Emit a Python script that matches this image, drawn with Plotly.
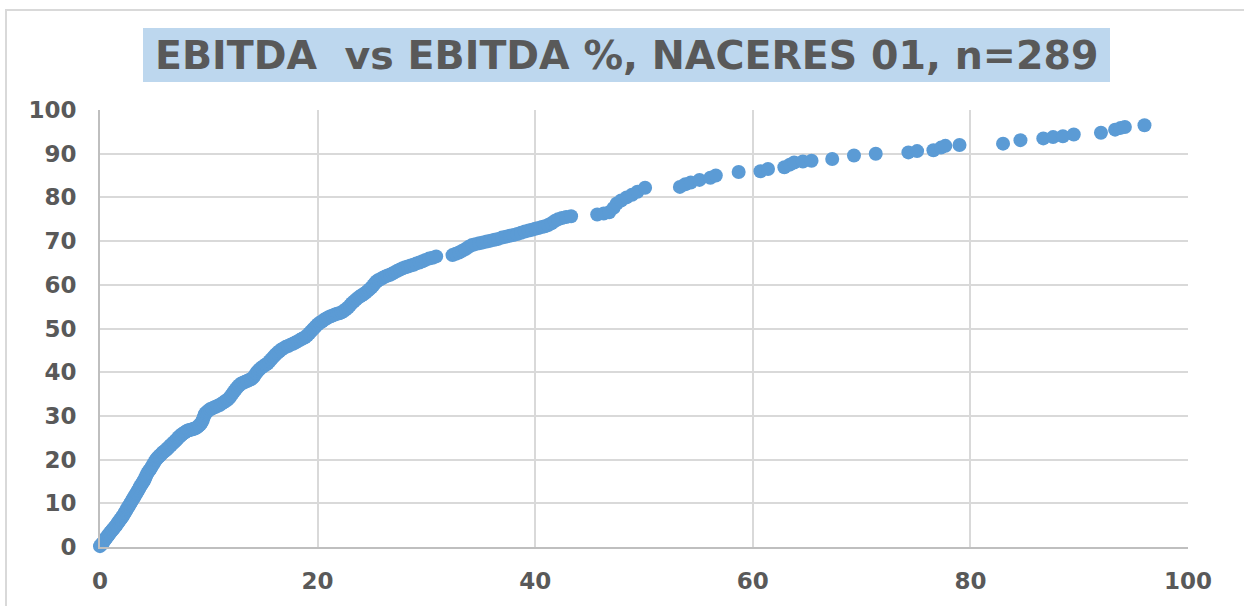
import plotly.graph_objects as go

# EBITDA share (x) against cumulative EBITDA % (y), NACE Rev.2 division 01, 289 firms
seg_a_x = [0.00, 0.10, 0.22, 0.35, 0.48, 0.55,
           0.62, 0.69, 0.76, 0.83, 0.90, 0.98, 1.06, 1.14, 1.22, 1.30,
           1.38, 1.46, 1.54, 1.62, 1.70, 1.78, 1.86, 1.94, 2.02, 2.10,
           2.18, 2.26, 2.34, 2.42, 2.50, 2.58, 2.66, 2.74, 2.82, 2.90,
           2.98, 3.06, 3.14, 3.22, 3.30, 3.38, 3.46, 3.54, 3.62, 3.70,
           3.78, 3.86, 3.94, 4.02, 4.10, 4.18, 4.26, 4.36, 4.46, 4.56,
           4.66, 4.76, 4.88, 5.00, 5.12]
seg_a_y = [0.2, 0.5, 0.8, 1.2, 1.8, 2.0,
           2.2, 2.5, 2.7, 2.9, 3.2, 3.4, 3.7, 3.9, 4.1, 4.4,
           4.6, 4.9, 5.1, 5.5, 5.7, 6.0, 6.3, 6.5, 6.8, 7.1,
           7.4, 7.8, 8.1, 8.4, 8.8, 9.1, 9.4, 9.8, 10.1, 10.4,
           10.8, 11.1, 11.4, 11.8, 12.1, 12.4, 12.8, 13.1, 13.5, 13.9,
           14.2, 14.5, 14.8, 15.1, 15.5, 15.9, 16.4, 16.9, 17.3, 17.6,
           18.0, 18.4, 18.9, 19.4, 19.9]

seg_b_x = [5.22, 5.32, 5.42, 5.52, 5.62, 5.72, 5.82, 5.92, 6.02, 6.12,
           6.22, 6.32, 6.42, 6.52, 6.62, 6.72, 6.82, 6.92, 7.02, 7.12,
           7.22, 7.32, 7.42, 7.54, 7.66, 7.78, 7.90, 8.02, 8.14, 8.28,
           8.42, 8.56, 8.70, 8.84, 8.98, 9.10, 9.22, 9.34, 9.44, 9.52,
           9.60, 9.70, 9.82, 9.96, 10.10]
seg_b_y = [20.2, 20.5, 20.7, 21.0, 21.2, 21.5, 21.7, 21.9, 22.1, 22.3,
           22.6, 22.8, 23.1, 23.3, 23.6, 23.8, 24.0, 24.3, 24.5, 24.8,
           25.1, 25.3, 25.5, 25.8, 26.0, 26.2, 26.4, 26.6, 26.7, 26.8,
           26.9, 27.0, 27.1, 27.3, 27.5, 27.8, 28.1, 28.5, 29.0, 29.6,
           30.2, 30.6, 30.9, 31.2, 31.5]

seg_c_x = [10.28, 10.46, 10.64, 10.82, 11.00, 11.18, 11.36, 11.54, 11.72, 11.88,
           12.04, 12.18, 12.32, 12.48, 12.64, 12.80, 12.98, 13.16, 13.34, 13.52,
           13.70, 13.88, 14.04, 14.20, 14.36, 14.52, 14.68, 14.86, 15.04, 15.22,
           15.40, 15.58, 15.76, 15.94, 16.12, 16.30, 16.48, 16.68, 16.88, 17.08,
           17.30, 17.52, 17.74, 17.96, 18.18, 18.40, 18.62, 18.84, 19.04, 19.24,
           19.42, 19.60, 19.80, 20.00, 20.20]
seg_c_y = [31.7, 31.9, 32.1, 32.3, 32.5, 32.8, 33.1, 33.4, 33.7, 34.1,
           34.6, 35.1, 35.6, 36.1, 36.6, 37.0, 37.4, 37.6, 37.8, 38.0,
           38.2, 38.4, 38.7, 39.2, 39.8, 40.3, 40.7, 41.1, 41.4, 41.7,
           42.0, 42.5, 43.0, 43.5, 44.0, 44.4, 44.8, 45.2, 45.5, 45.8,
           46.0, 46.3, 46.5, 46.8, 47.1, 47.4, 47.7, 48.0, 48.4, 48.9,
           49.4, 49.9, 50.4, 50.9, 51.3]

seg_d_x = [20.40, 20.60, 20.80, 21.00, 21.20, 21.40, 21.60, 21.80, 22.00, 22.20,
           22.40, 22.60, 22.80, 22.98, 23.16, 23.34, 23.52, 23.70, 23.88, 24.06,
           24.24, 24.42, 24.60, 24.78, 24.96, 25.12, 25.28, 25.44, 25.60, 25.80,
           26.00, 26.22, 26.44, 26.66, 26.88, 27.10, 27.34, 27.58, 27.82, 28.06,
           28.30, 28.56, 28.82, 29.08, 29.36, 29.64, 29.92, 30.24, 30.56, 30.90]
seg_d_y = [51.6, 52.0, 52.3, 52.6, 52.8, 53.0, 53.2, 53.4, 53.5, 53.7,
           54.0, 54.4, 54.8, 55.3, 55.8, 56.2, 56.6, 57.0, 57.3, 57.6,
           57.9, 58.2, 58.6, 59.0, 59.4, 59.9, 60.4, 60.8, 61.1, 61.3,
           61.6, 61.9, 62.1, 62.3, 62.6, 62.9, 63.2, 63.5, 63.8, 64.0,
           64.2, 64.4, 64.6, 64.9, 65.1, 65.4, 65.7, 66.0, 66.2, 66.5]

seg_e_x = [32.40, 32.70, 33.00, 33.30, 33.60, 33.90, 34.20, 34.50, 34.85, 35.20,
           35.55, 35.90, 36.25, 36.60, 36.95, 37.30, 37.65, 38.00, 38.35, 38.70,
           39.05, 39.40, 39.70, 40.00, 40.30, 40.60, 40.90, 41.20, 41.50, 41.80,
           42.10, 42.45, 42.85, 43.30]
seg_e_y = [66.8, 67.1, 67.4, 67.8, 68.2, 68.7, 69.1, 69.3, 69.5, 69.7,
           69.9, 70.1, 70.3, 70.5, 70.8, 71.0, 71.2, 71.4, 71.6, 71.9,
           72.2, 72.4, 72.6, 72.8, 73.0, 73.2, 73.4, 73.7, 74.1, 74.6,
           75.0, 75.3, 75.5, 75.7]

seg_f_x = [45.7, 46.3, 46.8, 47.2, 47.5, 47.9, 48.4, 48.9, 49.4, 50.1]
seg_f_y = [76.1, 76.3, 76.6, 77.6, 78.6, 79.3, 80.0, 80.6, 81.3, 82.2]

seg_g_x = [53.3, 53.8, 54.3, 55.1, 56.1, 56.6, 58.7, 60.7, 61.4, 62.9,
           63.4, 63.8, 64.6, 65.4, 67.3, 69.3, 71.3, 74.3, 75.1, 76.6,
           77.3, 77.7, 79.0, 83.0, 84.6, 86.7, 87.6, 88.5, 89.5, 92.0,
           93.3, 93.8, 94.2, 96.0]
seg_g_y = [82.4, 83.0, 83.4, 84.0, 84.5, 85.0, 85.8, 86.0, 86.5, 86.9,
           87.5, 88.0, 88.2, 88.4, 88.8, 89.6, 90.0, 90.3, 90.6, 90.8,
           91.4, 91.8, 92.0, 92.3, 93.1, 93.5, 93.8, 94.0, 94.4, 94.8,
           95.5, 95.9, 96.1, 96.5]

x_vals = seg_a_x + seg_b_x + seg_c_x + seg_d_x + seg_e_x + seg_f_x + seg_g_x
y_vals = seg_a_y + seg_b_y + seg_c_y + seg_d_y + seg_e_y + seg_f_y + seg_g_y

tick_vals = [0, 20, 40, 60, 80, 100]
y_tick_vals = [0, 10, 20, 30, 40, 50, 60, 70, 80, 90, 100]

title_text = "EBITDA\u00a0 vs EBITDA %, NACERES 01, n=289"

FONT = "DejaVu Sans"
TEXT = "#595959"
GRID = "#D9D9D9"

W, H = 1244, 606
ML, MR, MT, MB = 100, 56, 110, 59
PW, PH = W - ML - MR, H - MT - MB


def px(xp):
    return (xp - ML) / PW


def py(yp):
    return (H - MB - yp) / PH


fig = go.Figure(
    go.Scatter(
        x=x_vals, y=y_vals, mode="markers",
        marker=dict(size=14, color="#5B9BD5", line=dict(width=0)),
        cliponaxis=False, showlegend=False,
    )
)

axis_font = dict(family=FONT, size=23, color=TEXT, weight="bold")

fig.update_xaxes(
    range=[0, 100], tickvals=tick_vals, showgrid=True, gridcolor=GRID, gridwidth=2,
    showline=True, linecolor="#BFBFBF", linewidth=2, zeroline=False,
    ticks="", tickfont=axis_font, ticklabelstandoff=12,
)
fig.update_yaxes(
    range=[0, 100], tickvals=y_tick_vals, showgrid=True, gridcolor=GRID, gridwidth=2,
    showline=True, linecolor="#BFBFBF", linewidth=2, zeroline=False,
    ticks="", tickfont=axis_font, ticklabelstandoff=17,
)

# title banner
fig.add_shape(
    type="rect", xref="paper", yref="paper",
    x0=px(143), x1=px(1110), y0=py(82), y1=py(28),
    fillcolor="#BDD7EE", line=dict(width=0), layer="below",
)
fig.add_annotation(
    xref="paper", yref="paper", x=px(626), y=py(55),
    xanchor="center", yanchor="middle", showarrow=False,
    text=title_text, font=dict(family=FONT, size=39.5, color=TEXT, weight="bold"),
)

# chart frame
fig.add_shape(
    type="path", xref="paper", yref="paper",
    path=f"M {px(6)} {py(606)} L {px(6)} {py(10)} L {px(1244)} {py(10)}",
    line=dict(color=GRID, width=2),
)

fig.update_layout(
    width=W, height=H, margin=dict(l=ML, r=MR, t=MT, b=MB),
    paper_bgcolor="white", plot_bgcolor="white",
)

fig.write_html("out.html")
